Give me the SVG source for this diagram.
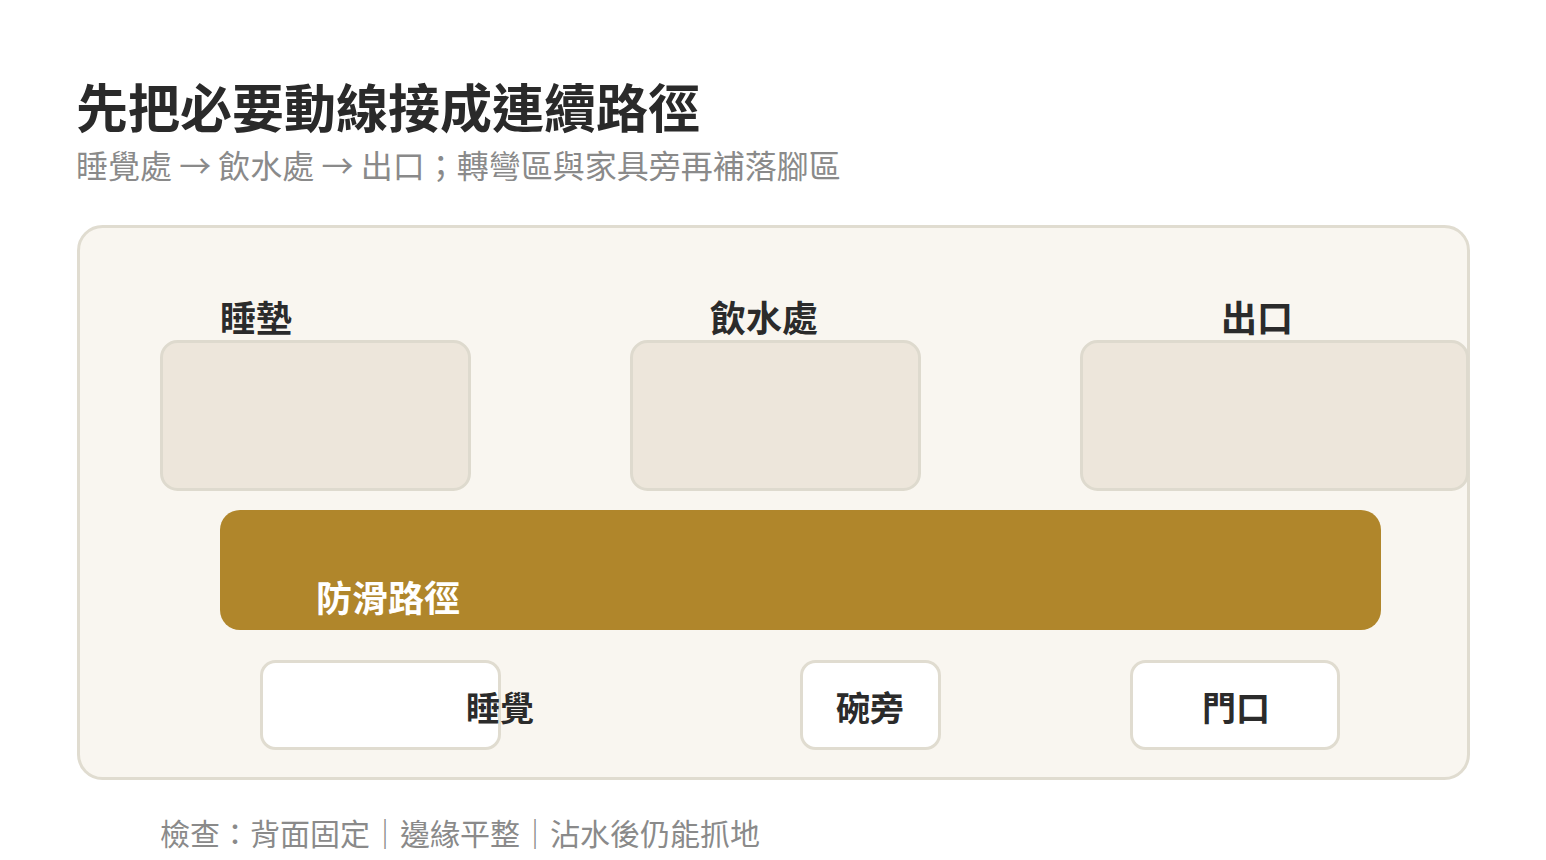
<svg xmlns="http://www.w3.org/2000/svg" width="1546" height="860" viewBox="0 0 1546 860">
<style>
.t{font-family:"Noto Sans CJK TC","Noto Sans CJK SC",sans-serif}
.title{font-size:52px;font-weight:700;fill:#2a2a2a}
.sub{font-size:32px;fill:#8a8a8a}
.foot{font-size:30px;fill:#8a8a8a}
.lbl{font-size:36px;font-weight:700;fill:#2b2b2b}
.lbl2{font-size:34px;font-weight:700;fill:#2b2b2b}
.zone{fill:#ede6db;stroke:#dedace;stroke-width:3}
.spot{fill:#ffffff;stroke:#e0dcd0;stroke-width:3}
</style>
<rect width="1546" height="860" fill="#ffffff"/>
<text class="t title" x="76" y="128">先把必要動線接成連續路徑</text>
<text class="t sub" x="76" y="178">睡覺處 → 飲水處 → 出口；轉彎區與家具旁再補落腳區</text>
<g id="panel">
<rect x="78.5" y="226.5" width="1390" height="552" rx="24" fill="#f9f6f0" stroke="#e0dcd0" stroke-width="3"/>
</g>
<g id="node-sleep-mat">
<rect class="zone" x="161.5" y="341.5" width="308" height="148" rx="16"/>
<text class="t lbl" x="220" y="332">睡墊</text>
</g>
<g id="node-water">
<rect class="zone" x="631.5" y="341.5" width="288" height="148" rx="16"/>
<text class="t lbl" x="710" y="332">飲水處</text>
</g>
<g id="node-exit">
<rect class="zone" x="1081.5" y="341.5" width="386" height="148" rx="16"/>
<text class="t lbl" x="1221" y="332">出口</text>
</g>
<g id="connectors">
<rect x="220" y="510" width="1161" height="120" rx="20" fill="#b0862b"/>
<text class="t lbl" x="316" y="612" style="fill:#ffffff">防滑路徑</text>
</g>
<g id="node-sleep">
<rect class="spot" x="261.5" y="661.5" width="238" height="87" rx="14"/>
<text class="t lbl2" x="466" y="721">睡覺</text>
</g>
<g id="node-bowl">
<rect class="spot" x="801.5" y="661.5" width="138" height="87" rx="14"/>
<text class="t lbl2" x="836" y="721">碗旁</text>
</g>
<g id="node-door">
<rect class="spot" x="1131.5" y="661.5" width="207" height="87" rx="14"/>
<text class="t lbl2" x="1202" y="721">門口</text>
</g>
<text class="t foot" x="160" y="845">檢查：背面固定｜邊緣平整｜沾水後仍能抓地</text>
</svg>
